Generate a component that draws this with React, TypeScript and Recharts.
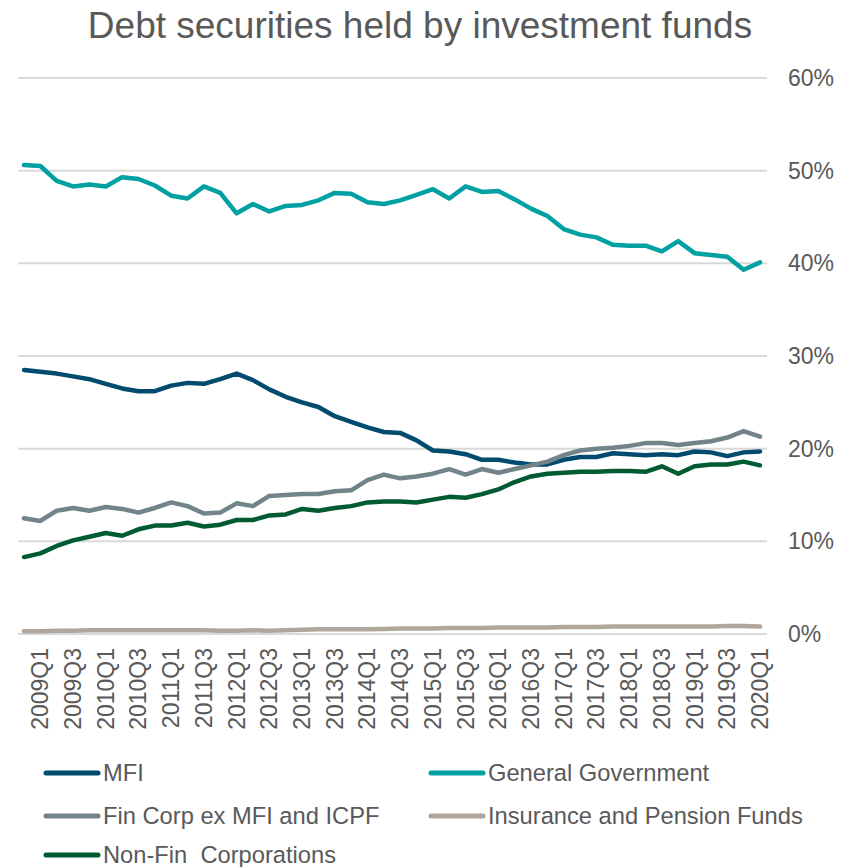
import React from 'react';
import { LineChart, Line, XAxis, YAxis, CartesianGrid, Legend } from 'recharts';

const quarters = [
  '2008Q4',
  '2009Q1', '2009Q2', '2009Q3', '2009Q4',
  '2010Q1', '2010Q2', '2010Q3', '2010Q4',
  '2011Q1', '2011Q2', '2011Q3', '2011Q4',
  '2012Q1', '2012Q2', '2012Q3', '2012Q4',
  '2013Q1', '2013Q2', '2013Q3', '2013Q4',
  '2014Q1', '2014Q2', '2014Q3', '2014Q4',
  '2015Q1', '2015Q2', '2015Q3', '2015Q4',
  '2016Q1', '2016Q2', '2016Q3', '2016Q4',
  '2017Q1', '2017Q2', '2017Q3', '2017Q4',
  '2018Q1', '2018Q2', '2018Q3', '2018Q4',
  '2019Q1', '2019Q2', '2019Q3', '2019Q4',
  '2020Q1',
];

const tickLabels = [
  '2009Q1', '2009Q3', '2010Q1', '2010Q3', '2011Q1', '2011Q3', '2012Q1', '2012Q3',
  '2013Q1', '2013Q3', '2014Q1', '2014Q3', '2015Q1', '2015Q3', '2016Q1', '2016Q3',
  '2017Q1', '2017Q3', '2018Q1', '2018Q3', '2019Q1', '2019Q3', '2020Q1',
];

const yTicks = [0, 10, 20, 30, 40, 50, 60];

const mfi = [
  28.5, 28.3, 28.1, 27.8, 27.5, 27.0, 26.5, 26.2, 26.2, 26.8,
  27.1, 27.0, 27.5, 28.1, 27.4, 26.4, 25.6, 25.0, 24.5, 23.5,
  22.9, 22.3, 21.8, 21.7, 20.9, 19.8, 19.7, 19.4, 18.8, 18.8,
  18.5, 18.3, 18.3, 18.8, 19.1, 19.1, 19.5, 19.4, 19.3, 19.4,
  19.3, 19.7, 19.6, 19.2, 19.6, 19.7,
];

const generalGovernment = [
  50.6, 50.5, 48.9, 48.3, 48.5, 48.3, 49.3, 49.1, 48.4, 47.3,
  47.0, 48.3, 47.6, 45.4, 46.4, 45.6, 46.2, 46.3, 46.8, 47.6,
  47.5, 46.6, 46.4, 46.8, 47.4, 48.0, 47.0, 48.3, 47.7, 47.8,
  46.9, 45.9, 45.1, 43.7, 43.1, 42.8, 42.0, 41.9, 41.9, 41.3,
  42.4, 41.1, 40.9, 40.7, 39.3, 40.1,
];

const finCorp = [
  12.5, 12.2, 13.3, 13.6, 13.3, 13.7, 13.5, 13.1, 13.6, 14.2,
  13.8, 13.0, 13.1, 14.1, 13.8, 14.9, 15.0, 15.1, 15.1, 15.4,
  15.5, 16.6, 17.2, 16.8, 17.0, 17.3, 17.8, 17.2, 17.8, 17.4,
  17.8, 18.2, 18.6, 19.3, 19.8, 20.0, 20.1, 20.3, 20.6, 20.6,
  20.4, 20.6, 20.8, 21.2, 21.9, 21.3,
];

const insurancePension = [
  0.3, 0.3, 0.35, 0.35, 0.4, 0.4, 0.4, 0.4, 0.4, 0.4,
  0.4, 0.4, 0.35, 0.35, 0.4, 0.35, 0.4, 0.45, 0.5, 0.5,
  0.5, 0.5, 0.55, 0.6, 0.6, 0.6, 0.65, 0.65, 0.65, 0.7,
  0.7, 0.7, 0.7, 0.75, 0.75, 0.75, 0.8, 0.8, 0.8, 0.8,
  0.8, 0.8, 0.8, 0.85, 0.85, 0.8,
];

const nonFin = [
  8.3, 8.7, 9.5, 10.1, 10.5, 10.9, 10.6, 11.3, 11.7, 11.7,
  12.0, 11.6, 11.8, 12.3, 12.3, 12.8, 12.9, 13.5, 13.3, 13.6,
  13.8, 14.2, 14.3, 14.3, 14.2, 14.5, 14.8, 14.7, 15.1, 15.6,
  16.4, 17.0, 17.3, 17.4, 17.5, 17.5, 17.6, 17.6, 17.5, 18.1,
  17.3, 18.1, 18.3, 18.3, 18.6, 18.2,
];

const data = quarters.map((q, i) => ({
  q,
  mfi: mfi[i],
  gov: generalGovernment[i],
  fin: finCorp[i],
  ins: insurancePension[i],
  nonfin: nonFin[i],
}));

const series = [
  { key: 'mfi', name: 'MFI', color: '#004b6e' },
  { key: 'gov', name: 'General Government', color: '#00a0a3' },
  { key: 'fin', name: 'Fin Corp ex MFI and ICPF', color: '#71848a' },
  { key: 'ins', name: 'Insurance and Pension Funds', color: '#b0a69b' },
  { key: 'nonfin', name: 'Non-Fin  Corporations', color: '#005a32' },
];

const legendSpots = [
  { left: 35, top: 4 },
  { left: 420, top: 4 },
  { left: 35, top: 47 },
  { left: 420, top: 47 },
  { left: 35, top: 86 },
];

const FONT = '"Liberation Sans", Arial, Helvetica, sans-serif';
const TEXT = '#595959';

const XTick = (props: any) => {
  const { x, y, payload } = props;
  if (!tickLabels.includes(payload.value)) return <g />;
  return (
    <text
      x={x}
      y={y}
      transform={`rotate(-90 ${x} ${y})`}
      textAnchor="end"
      dominantBaseline="central"
      fontSize={23}
      fill={TEXT}
      fontFamily={FONT}
    >
      {payload.value}
    </text>
  );
};

const LegendContent = () => (
  <div style={{ position: 'relative', width: 832, height: 112, fontFamily: FONT }}>
    {series.map((s, i) => (
      <div
        key={s.key}
        style={{
          position: 'absolute',
          left: legendSpots[i].left,
          top: legendSpots[i].top,
          height: 28,
          display: 'flex',
          alignItems: 'center',
          whiteSpace: 'pre',
        }}
      >
        <svg width={58} height={10} style={{ display: 'block' }}>
          <line x1={3} y1={5} x2={55} y2={5} stroke={s.color} strokeWidth={5} strokeLinecap="round" />
        </svg>
        <span style={{ marginLeft: 2, fontSize: 23.7, color: TEXT, lineHeight: '28px' }}>{s.name}</span>
      </div>
    ))}
  </div>
);

export default function App() {
  return (
    <div style={{ position: 'relative', width: 832, height: 859, fontFamily: FONT }}>
      <div
        style={{
          position: 'absolute',
          left: 0,
          top: -1,
          width: 824,
          textAlign: 'center',
          fontSize: 37,
          lineHeight: '37px',
          color: TEXT,
          whiteSpace: 'nowrap',
        }}
      >
        Debt securities held by investment funds
      </div>
      <LineChart
        width={832}
        height={859}
        data={data}
        margin={{ top: 70, right: 13, left: 10, bottom: 113 }}
      >
        <CartesianGrid vertical={false} stroke="#d9d9d9" strokeWidth={2} />
        <XAxis
          dataKey="q"
          interval={0}
          axisLine={false}
          tickLine={false}
          tickSize={6}
          tickMargin={8}
          height={120}
          padding={{ left: 6, right: 7 }}
          tick={<XTick />}
        />
        <YAxis
          orientation="right"
          domain={[0, 60]}
          ticks={yTicks}
          width={60}
          axisLine={false}
          tickLine={false}
          tickSize={6}
          tickMargin={15}
          tickFormatter={(v: number) => `${v}%`}
          tick={{ fontSize: 23, fill: TEXT, fontFamily: FONT }}
        />
        {series.map((s) => (
          <Line
            key={s.key}
            type="linear"
            dataKey={s.key}
            name={s.name}
            stroke={s.color}
            strokeWidth={4.5}
            strokeLinecap="round"
            strokeLinejoin="round"
            dot={false}
            activeDot={false}
            isAnimationActive={false}
          />
        ))}
        <Legend
          layout="horizontal"
          verticalAlign="middle"
          align="center"
          wrapperStyle={{ top: 747, left: 0, width: 832, height: 112 }}
          content={<LegendContent />}
        />
      </LineChart>
    </div>
  );
}
